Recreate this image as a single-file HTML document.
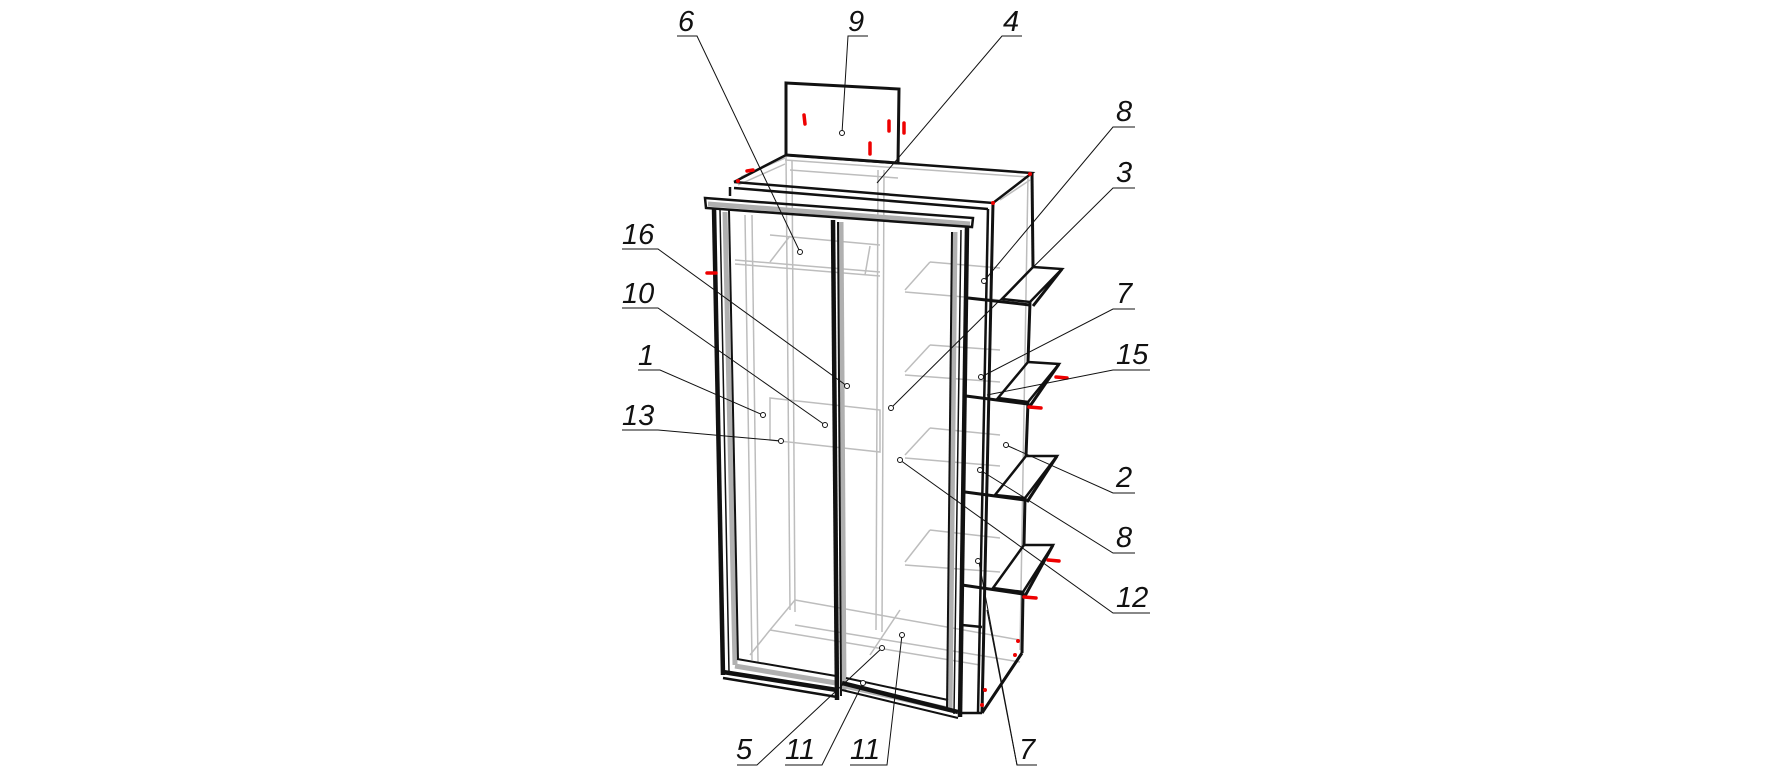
<!DOCTYPE html>
<html><head><meta charset="utf-8"><style>
html,body{margin:0;padding:0;background:#fff;}
svg{display:block;}
text{font-family:"Liberation Sans",sans-serif;font-style:italic;font-size:29px;fill:#111;}
</style></head><body>
<svg width="1772" height="774" viewBox="0 0 1772 774" xmlns="http://www.w3.org/2000/svg">
<g stroke="#bdbdbd" stroke-width="1.5" fill="none">
<line x1="786" y1="155" x2="790" y2="610"/>
<line x1="792" y1="160" x2="795" y2="612"/>
<line x1="878" y1="170" x2="876" y2="630"/>
<line x1="884" y1="170" x2="882" y2="632"/>
<line x1="745" y1="215" x2="752" y2="660"/>
<line x1="752" y1="215" x2="758" y2="662"/>
<line x1="1028" y1="175" x2="1020" y2="650"/>
<polygon points="770,398 880,410 880,452 770,440"/>
<line x1="770" y1="235" x2="880" y2="245"/>
<line x1="735" y1="260" x2="880" y2="272"/>
<line x1="735" y1="264" x2="880" y2="276"/>
<line x1="790" y1="236" x2="770" y2="262"/>
<line x1="870" y1="246" x2="865" y2="275"/>
<line x1="930" y1="262" x2="1000" y2="268"/>
<line x1="905" y1="290" x2="930" y2="262"/>
<line x1="905" y1="292" x2="1000" y2="300"/>
<line x1="930" y1="345" x2="1000" y2="350"/>
<line x1="905" y1="372" x2="930" y2="345"/>
<line x1="905" y1="375" x2="1000" y2="382"/>
<line x1="930" y1="428" x2="1000" y2="435"/>
<line x1="905" y1="455" x2="930" y2="428"/>
<line x1="905" y1="458" x2="1000" y2="466"/>
<line x1="930" y1="530" x2="1000" y2="538"/>
<line x1="905" y1="562" x2="930" y2="530"/>
<line x1="905" y1="565" x2="1000" y2="572"/>
<line x1="795" y1="600" x2="1020" y2="640"/>
<line x1="770" y1="630" x2="795" y2="600"/>
<line x1="770" y1="630" x2="980" y2="665"/>
<line x1="795" y1="625" x2="1020" y2="662"/>
<line x1="750" y1="655" x2="770" y2="630"/>
<line x1="900" y1="610" x2="870" y2="655"/>
<line x1="785" y1="160" x2="1028" y2="177"/>
<line x1="790" y1="170" x2="898" y2="178"/>
<line x1="741" y1="177" x2="785" y2="158"/>
<line x1="738" y1="185" x2="785" y2="164"/>
<line x1="1000" y1="200" x2="1030" y2="180"/>
</g>
<g stroke="#b0b0b0" stroke-width="5" fill="none">
<line x1="708" y1="204" x2="970" y2="224"/>
<line x1="725" y1="212" x2="735" y2="665"/>
<line x1="841" y1="222" x2="844" y2="690"/>
<line x1="955" y1="232" x2="950" y2="712"/>
<line x1="845" y1="686" x2="952" y2="710"/>
<line x1="735" y1="666" x2="836" y2="683"/>
</g>
<g stroke="#111" stroke-width="2.5" fill="none" stroke-linejoin="miter">
<polygon points="786,83 899,89 898,163 786,155" stroke-width="3"/>
<polyline points="734,182 786,155 1032,173 993,203 734,182"/>
<line x1="730" y1="187" x2="730" y2="196"/>
<line x1="734" y1="188" x2="988" y2="209"/>
<line x1="993" y1="203" x2="982" y2="713" stroke-width="3"/>
<line x1="988" y1="209" x2="978" y2="713"/>
<line x1="1032" y1="173" x2="1033" y2="267" stroke-width="3"/>
<line x1="1030" y1="302" x2="1028" y2="362" stroke-width="3"/>
<line x1="1028" y1="402" x2="1026" y2="456" stroke-width="3"/>
<line x1="1025" y1="498" x2="1024" y2="545" stroke-width="3"/>
<line x1="1023" y1="592" x2="1022" y2="653" stroke-width="3"/>
<line x1="1022" y1="653" x2="982" y2="713" stroke-width="3"/>
<line x1="982" y1="713" x2="960" y2="713"/>
<polygon points="1033,267 1062,269 1030,302 1002,299"/>
<line x1="1062" y1="269" x2="1033" y2="306" stroke-width="3"/>
<line x1="968" y1="298" x2="1030" y2="305" stroke-width="3"/>
<polygon points="1028,362 1059,364 1028,402 998,398"/>
<line x1="1059" y1="364" x2="1030" y2="406" stroke-width="3"/>
<line x1="966" y1="396" x2="1028" y2="404" stroke-width="3"/>
<polygon points="1026,456 1057,456 1025,498 995,495"/>
<line x1="1057" y1="456" x2="1027" y2="502" stroke-width="3"/>
<line x1="965" y1="492" x2="1025" y2="500" stroke-width="3"/>
<polygon points="1024,545 1053,545 1023,592 993,588"/>
<line x1="1053" y1="545" x2="1025" y2="596" stroke-width="3"/>
<line x1="962" y1="585" x2="1023" y2="594" stroke-width="3"/>
<line x1="962" y1="625" x2="982" y2="627"/>
<polygon points="705,198 973,218 972,227 706,208" stroke-width="2.5"/>
<line x1="714" y1="208" x2="723" y2="675" stroke-width="4.5"/>
<line x1="720" y1="210" x2="729" y2="672" stroke-width="1.5"/>
<line x1="729" y1="210" x2="738" y2="660" stroke-width="2"/>
<line x1="833" y1="220" x2="837" y2="700" stroke-width="4.5"/>
<line x1="838" y1="222" x2="841" y2="696" stroke-width="2"/>
<line x1="967" y1="227" x2="960" y2="717" stroke-width="4.5"/>
<line x1="961" y1="230" x2="954" y2="714" stroke-width="1.5"/>
<line x1="952" y1="232" x2="947" y2="708" stroke-width="2"/>
<line x1="723" y1="672" x2="837" y2="690" stroke-width="4.5"/>
<line x1="723" y1="678" x2="837" y2="697" stroke-width="2.5"/>
<line x1="737" y1="659" x2="836" y2="676" stroke-width="2"/>
<line x1="842" y1="683" x2="958" y2="712" stroke-width="4.5"/>
<line x1="842" y1="690" x2="958" y2="718" stroke-width="2"/>
<line x1="846" y1="678" x2="948" y2="700" stroke-width="2"/>
</g>
<g stroke="#e00" stroke-width="3.5" stroke-linecap="round">
<line x1="804" y1="115" x2="805" y2="124"/>
<line x1="889" y1="121" x2="889" y2="131"/>
<line x1="904" y1="123" x2="904" y2="133"/>
<line x1="870" y1="143" x2="870" y2="154"/>
<line x1="747" y1="171" x2="753" y2="170"/>
<line x1="707" y1="273" x2="716" y2="273"/>
<line x1="1056" y1="377" x2="1067" y2="378"/>
<line x1="1029" y1="407" x2="1041" y2="408"/>
<line x1="1048" y1="560" x2="1059" y2="561"/>
<line x1="1024" y1="597" x2="1036" y2="598"/>
</g>
<g fill="#e00"><circle cx="993" cy="203" r="2"/><circle cx="1030" cy="174" r="2"/><circle cx="738" cy="181" r="2"/><circle cx="1018" cy="641" r="2"/><circle cx="1015" cy="655" r="2"/><circle cx="985" cy="690" r="2"/><circle cx="982" cy="705" r="2"/></g>
<g stroke="#111" stroke-width="1" fill="none">
<polyline points="677,36 697,36 800,252"/><circle cx="800" cy="252" r="2.5" fill="#fff"/>
<polyline points="868,36 848,36 842,133"/><circle cx="842" cy="133" r="2.5" fill="#fff"/>
<polyline points="1022,36 1002,36 877,183"/>
<polyline points="622,249 658,249 847,386"/><circle cx="847" cy="386" r="2.5" fill="#fff"/>
<polyline points="622,308 658,308 825,425"/><circle cx="825" cy="425" r="2.5" fill="#fff"/>
<polyline points="638,370 660,370 763,415"/><circle cx="763" cy="415" r="2.5" fill="#fff"/>
<polyline points="622,430 658,430 781,441"/><circle cx="781" cy="441" r="2.5" fill="#fff"/>
<polyline points="1135,127 1113,127 984,281"/><circle cx="984" cy="281" r="2.5" fill="#fff"/>
<polyline points="1135,188 1113,188 891,408"/><circle cx="891" cy="408" r="2.5" fill="#fff"/>
<polyline points="1135,309 1113,309 981,377"/><circle cx="981" cy="377" r="2.5" fill="#fff"/>
<polyline points="1150,370 1113,370 987,395"/>
<polyline points="1135,493 1113,493 1006,445"/><circle cx="1006" cy="445" r="2.5" fill="#fff"/>
<polyline points="1135,553 1113,553 980,470"/><circle cx="980" cy="470" r="2.5" fill="#fff"/>
<polyline points="1150,613 1113,613 900,460"/><circle cx="900" cy="460" r="2.5" fill="#fff"/>
<polyline points="1037,765 1017,765 987,610"/>
<polyline points="1017,765 979,562"/><circle cx="978" cy="561" r="2.5" fill="#fff"/>
<polyline points="737,765 757,765 882,648"/><circle cx="882" cy="648" r="2.5" fill="#fff"/>
<polyline points="785,765 822,765 863,683"/><circle cx="863" cy="683" r="2.5" fill="#fff"/>
<polyline points="850,765 887,765 902,635"/><circle cx="902" cy="635" r="2.5" fill="#fff"/>
</g>
<text x="678" y="31">6</text>
<text x="848" y="31">9</text>
<text x="1003" y="31">4</text>
<text x="622" y="244">16</text>
<text x="622" y="303">10</text>
<text x="638" y="365">1</text>
<text x="622" y="425">13</text>
<text x="1116" y="121">8</text>
<text x="1116" y="182">3</text>
<text x="1116" y="303">7</text>
<text x="1116" y="364">15</text>
<text x="1116" y="487">2</text>
<text x="1116" y="547">8</text>
<text x="1116" y="607">12</text>
<text x="1019" y="759">7</text>
<text x="736" y="759">5</text>
<text x="785" y="759">11</text>
<text x="850" y="759">11</text>
</svg>
</body></html>
